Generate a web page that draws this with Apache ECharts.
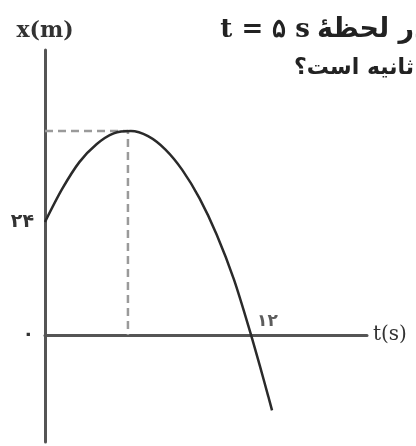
<!DOCTYPE html>
<html>
<head>
<meta charset="utf-8">
<script src="https://cdn.jsdelivr.net/npm/echarts@6/dist/echarts.min.js"></script>
<style>
html, body { margin: 0; background: #fff; }
#graph { width: 416px; height: 446px; }
</style>
</head>
<body>
<div id="graph"></div>
<script>
// position-time curve
let timeValues = [0, 1, 2, 3, 4, 5, 6, 7, 8, 9, 10, 11, 12, 12.5, 13, 13.22];
let positionValues = [24, 31, 36.7, 40.5, 42.8, 43.3, 42.2, 39.4, 35, 29, 21.3, 11.8, 0, -6.4, -13, -16];

// dashed guide to the top of the curve
let peakTime = 4.83;
let peakPosition = 43.3;

let yTicks = [0, 24];
let xTicks = [12];

let questionLines = ['t = ۵ s', 'در لحظهٔ', 'ثانیه است؟\u200F'];

function toPersian(n) {
	return String(n).replace(/\d/g, d => '۰۱۲۳۴۵۶۷۸۹'[d]);
}

let curveData = timeValues.map((t, i) => [t, positionValues[i]]);
let guideData = [[0, peakPosition], [peakTime, peakPosition], [peakTime, 0]];
let xTickData = xTicks.map(t => [t, 0]);

var myChart = echarts.init(document.getElementById('graph'));

let option = {
	backgroundColor: '#fff',
	animation: false,
	grid: { left: 45, right: 49, top: 50, bottom: 4 },
	xAxis: {
		type: 'value',
		min: 0,
		max: 18.75,
		name: 't(s)',
		nameLocation: 'end',
		nameGap: 6,
		nameTextStyle: { fontFamily: 'DejaVu Serif', fontSize: 20, color: '#333', verticalAlign: 'middle' },
		axisLine: { onZero: true, lineStyle: { color: '#555', width: 3 } },
		axisTick: { show: false },
		splitLine: { show: false },
		axisLabel: { show: false }
	},
	yAxis: {
		type: 'value',
		min: -22.7,
		max: 60.5,
		name: 'x(m)',
		nameLocation: 'end',
		nameGap: 8,
		nameTextStyle: { fontFamily: 'DejaVu Serif', fontWeight: 'bold', fontSize: 22, color: '#333', align: 'center' },
		axisLine: { show: true, lineStyle: { color: '#555', width: 3 } },
		axisTick: { show: false },
		splitLine: { show: false },
		axisLabel: {
			customValues: yTicks,
			margin: 11,
			fontFamily: 'DejaVu Sans',
			fontWeight: 'bold',
			fontSize: 19,
			color: '#333',
			formatter: v => toPersian(v)
		}
	},
	graphic: [
		{
			type: 'text',
			x: 428,
			y: 30,
			style: {
				text: '{a|' + questionLines[0] + '}{b|' + questionLines[1] + '}',
				align: 'right',
				verticalAlign: 'middle',
				fill: '#222',
				rich: {
					a: { font: 'bold 26px "DejaVu Serif"', fill: '#222' },
					b: { font: 'bold 27px "DejaVu Sans"', fill: '#222', padding: [0, 0, 0, 7] }
				}
			}
		},
		{
			type: 'text',
			x: 414,
			y: 68,
			style: {
				text: questionLines[2],
				align: 'right',
				verticalAlign: 'middle',
				font: 'bold 22px "DejaVu Sans"',
				fill: '#222'
			}
		}
	],
	series: [
		{
			type: 'line',
			data: guideData,
			showSymbol: false,
			lineStyle: { color: '#9a9a9a', width: 2.5, type: [8, 5] },
			z: 1
		},
		{
			type: 'line',
			data: curveData,
			smooth: 0.3,
			showSymbol: false,
			lineStyle: { color: '#2a2a2a', width: 2.5 },
			z: 3
		},
		{
			type: 'scatter',
			data: xTickData,
			symbolSize: 0,
			silent: true,
			label: {
				show: true,
				position: [6, -22],
				fontFamily: 'DejaVu Sans',
				fontWeight: 'bold',
				fontSize: 17,
				color: '#333',
				formatter: p => toPersian(p.value[0])
			},
			z: 4
		}
	]
};

myChart.setOption(option, true);
</script>
</body>
</html>
